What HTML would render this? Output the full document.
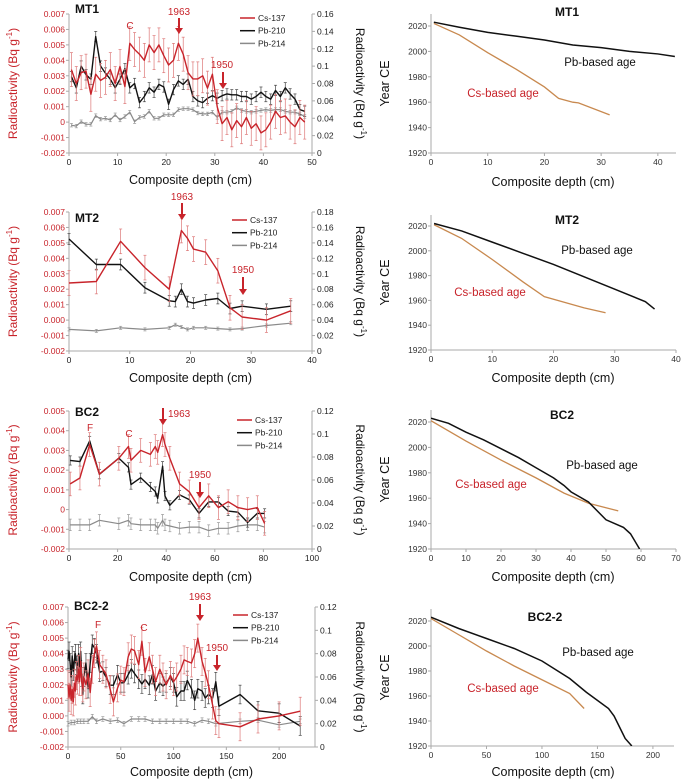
<!DOCTYPE html>
<html><head><meta charset="utf-8">
<style>
html,body{margin:0;padding:0;background:#fff;}
svg{display:block;font-family:"Liberation Sans",Arial,sans-serif;}
</style></head>
<body>
<svg id="fig" width="685" height="782" viewBox="0 0 685 782"></svg>
<script>
const NS="http://www.w3.org/2000/svg";
const svg=document.getElementById('fig');
const RED="#c8242b", ORANGE="#c8894f", GREY="#8a8a8a";

// ---------- MT1 radioactivity ----------
const mt1X=[0.5,1.5,2.5,3.5,4.5,5.5,6.5,7.5,8.5,9.5,10.5,11.5,12.5,13.5,14.5,15.5,16.5,17.5,18.5,19.5,20.5,21.5,22.5,23.5,24.5,25.5,26.5,27.5,28.5,29.5,30.5,31.5,32.5,33.5,34.5,35.5,36.5,37.5,38.5,39.5,40.5,41.5,42.5,43.5,44.5,45.5,46.5,47.5,48.5];
const mt1Cs=[0.0034,0.0025,0.0032,0.0033,0.0018,0.0031,0.0027,0.0029,0.0034,0.0025,0.0036,0.0023,0.0051,0.0047,0.0044,0.0040,0.0050,0.0045,0.0050,0.0043,0.0037,0.0040,0.0051,0.0044,0.0032,0.0028,0.0028,0.0030,0.0022,0.0031,0.0010,-0.0001,0.0003,-0.0005,0.0001,-0.0003,0.0003,-0.0004,-0.0001,-0.0007,-0.0005,0.0000,0.0007,0.0003,0.0004,0.0000,-0.0003,0.0003,0.0000];
const mt1Pb210=[0.088,0.075,0.100,0.090,0.085,0.134,0.100,0.092,0.085,0.075,0.085,0.097,0.075,0.080,0.058,0.065,0.075,0.070,0.079,0.076,0.056,0.073,0.083,0.079,0.085,0.065,0.060,0.058,0.063,0.066,0.063,0.066,0.068,0.067,0.067,0.065,0.065,0.062,0.065,0.070,0.065,0.062,0.072,0.065,0.075,0.068,0.062,0.050,0.048];
const mt1Pb214=[0.032,0.031,0.036,0.033,0.033,0.043,0.039,0.040,0.038,0.044,0.038,0.042,0.047,0.036,0.041,0.042,0.048,0.040,0.040,0.044,0.044,0.044,0.050,0.051,0.051,0.050,0.046,0.045,0.045,0.047,0.041,0.047,0.047,0.048,0.052,0.049,0.048,0.047,0.048,0.049,0.050,0.049,0.050,0.050,0.048,0.047,0.047,0.045,0.042];
const mt1Err=[0.0011,0.006,0.002];

// ---------- MT2 ----------
const mt2CsX=[0,4.5,8.5,12.5,16.5,18.5,19.5,20.5,22.5,24.5,26.5,28.5,32.5,36.5];
const mt2Cs=[0.0024,0.0025,0.0051,0.0034,0.0020,0.0058,0.0053,0.0046,0.0044,0.0032,0.0008,0.0002,0.0000,0.0006];
const mt2PbX=[0,4.5,8.5,12.5,16.5,17.5,18.5,19.5,20.5,22.5,24.5,26.5,28.5,32.5,36.5];
const mt2Pb210=[0.145,0.112,0.112,0.082,0.065,0.064,0.080,0.064,0.062,0.066,0.068,0.055,0.058,0.054,0.058];
const mt2Pb214=[0.028,0.026,0.030,0.028,0.030,0.034,0.031,0.028,0.030,0.030,0.029,0.028,0.029,0.033,0.036];
const mt2Err=[0.0008,0.007,0.002];

// ---------- BC2 ----------
const bc2X=[0.5,4.5,8.5,12.5,20.5,24.5,25.5,29.5,33.5,35.5,36.5,38.5,39.5,41.5,45.5,49.5,53.5,57.5,61.5,65.5,69.5,73.5,77.5,80.5];
const bc2Cs=[0.0013,0.0016,0.0033,0.0018,0.0026,0.0032,0.0025,0.0030,0.0028,0.0032,0.0029,0.0038,0.0033,0.0026,0.0013,0.0009,0.0001,0.0007,0.0001,0.0004,0.0001,0.0000,0.0001,-0.0007];
const bc2Pb210=[0.077,0.076,0.094,0.065,0.079,0.071,0.056,0.062,0.054,0.050,0.044,0.072,0.046,0.038,0.047,0.043,0.031,0.041,0.041,0.033,0.032,0.023,0.031,0.031];
const bc2Pb214=[0.021,0.021,0.021,0.025,0.022,0.025,0.022,0.021,0.021,0.021,0.018,0.025,0.021,0.020,0.018,0.019,0.019,0.016,0.018,0.018,0.020,0.021,0.021,0.019];
const bc2Err=[0.0006,0.004,0.005];

// ---------- BC2-2 ----------
const bc22X=[0,1,2,3,4,5,6,7,8,9,10,11,12,13,14,15,17,19,21,23,25,27,30,33,36,40,43,47,50,53,57,60,63,67,70,73,77,80,83,87,90,93,97,100,103,107,110,113,117,120,123,127,130,133,137,140,143,163,180,200,220];
const bc22Cs=[0.0020,0.0012,0.0020,0.0010,0.0017,0.0009,0.0021,0.0016,0.0026,0.0023,0.0030,0.0022,0.0035,0.0022,0.0018,0.0025,0.0020,0.0027,0.0015,0.0030,0.0040,0.0045,0.0033,0.0030,0.0027,0.0017,0.0009,0.0018,0.0023,0.0022,0.0038,0.0043,0.0042,0.0033,0.0048,0.0028,0.0038,0.0030,0.0022,0.0030,0.0025,0.0020,0.0026,0.0022,0.0025,0.0030,0.0036,0.0035,0.0034,0.0040,0.0050,0.0035,0.0028,0.0020,0.0007,-0.0003,-0.0005,-0.0007,-0.0002,0.0000,0.0003];
const bc22Pb210=[0.075,0.082,0.072,0.060,0.078,0.065,0.074,0.080,0.070,0.064,0.080,0.068,0.082,0.060,0.045,0.060,0.072,0.050,0.072,0.088,0.085,0.080,0.064,0.065,0.060,0.053,0.053,0.062,0.055,0.055,0.062,0.067,0.063,0.058,0.054,0.058,0.053,0.062,0.048,0.055,0.052,0.055,0.060,0.055,0.043,0.048,0.048,0.057,0.050,0.040,0.050,0.048,0.042,0.045,0.042,0.056,0.035,0.045,0.031,0.029,0.018];
const bc22Pb214X=[0,3,6,9,12,15,19,23,27,33,40,47,53,60,67,73,80,87,93,100,107,113,120,127,133,140,163,180,200,220];
const bc22Pb214=[0.020,0.021,0.021,0.022,0.022,0.022,0.022,0.026,0.022,0.024,0.022,0.023,0.020,0.024,0.024,0.024,0.022,0.022,0.022,0.022,0.022,0.022,0.020,0.023,0.022,0.020,0.022,0.023,0.019,0.022];
const bc22Err=[0.0009,0.008,0.002];

// ---------- age models ----------
const mt1AgePbX=[0.5,5,10,15,20,25,30,35,40,43];
const mt1AgePb=[2023,2019,2015,2012,2009,2005,2003,2000,1998,1996];
const mt1AgeCsX=[0.5,5,10,15,20,22.5,25,26,31.5];
const mt1AgeCs=[2022,2013,1999,1986,1972,1963,1960,1959.5,1950];
const mt2AgePbX=[0.5,5,10,15,20,25,30,35,36.5];
const mt2AgePb=[2022,2016,2007,1998,1989,1979,1969,1959,1953];
const mt2AgeCsX=[0.5,5,10,15,18.5,25,28.5];
const mt2AgeCs=[2021,2010,1993,1975,1963,1954,1950];
const bc2AgePbX=[0,5,10,15,20,25,30,35,38,40,45,50,55,57,59.6];
const bc2AgePb=[2023,2019,2012,2006,1999,1992,1984,1976,1970,1965,1957,1943,1937,1932,1920];
const bc2AgeCsX=[0,10,20,25,30,38,45,53.5];
const bc2AgeCs=[2021,2005,1990,1983,1976,1964,1956,1950];
const bc22AgePbX=[0,25,50,75,100,125,140,160,165,170,175,181];
const bc22AgePb=[2023,2014,2006,1998,1988,1974,1963,1950,1944,1935,1926,1920];
const bc22AgeCsX=[0,25,50,75,100,125,138];
const bc22AgeCs=[2022,2009,1996,1984,1973,1962,1950];

function el(tag,attrs,parent){const e=document.createElementNS(NS,tag);for(const k in attrs)e.setAttribute(k,attrs[k]);(parent||svg).appendChild(e);return e;}
function txt(s,attrs,parent){const e=el('text',attrs,parent);e.textContent=s;return e;}
function scale(d0,d1,r0,r1){return v=>r0+(v-d0)/(d1-d0)*(r1-r0);}
const TF=8.5;

function radioPanel(p){
  const g=el('g',{});
  
  
  const L=p.L,R=p.R,T=p.T,B=p.B;
  const xs=scale(0,p.xmax,L,R), yl=scale(p.lmin,p.lmax,B,T), yr=scale(0,p.rmax,B,T);
  el('line',{x1:L,y1:T,x2:L,y2:B,stroke:'#aaa','stroke-width':1},g);
  el('line',{x1:R,y1:T,x2:R,y2:B,stroke:'#aaa','stroke-width':1},g);
  el('line',{x1:L,y1:B,x2:R,y2:B,stroke:'#aaa','stroke-width':1},g);
  p.lticks.forEach((t,i)=>{const y=yl(p.lvals[i]);el('line',{x1:L-3,y1:y,x2:L,y2:y,stroke:'#aaa'},g);
    const e=txt(t,{x:L-4,y:y+3,'font-size':TF,fill:RED,'text-anchor':'end'},g);
    });
  p.rticks.forEach((t,i)=>{const y=yr(p.rvals[i]);el('line',{x1:R,y1:y,x2:R+3,y2:y,stroke:'#aaa'},g);
    const e=txt(t,{x:R+5,y:y+3,'font-size':TF,fill:'#222'},g);
    });
  p.xticks.forEach(v=>{const x=xs(v);el('line',{x1:x,y1:B,x2:x,y2:B+3,stroke:'#aaa'},g);
    const e=txt(String(v),{x:x,y:B+12,'font-size':TF,fill:'#222','text-anchor':'middle'},g);
    });
  const xt=txt('Composite depth (cm)',{x:(L+R)/2,y:p.xtY,'font-size':12.5,fill:'#111','text-anchor':'middle'},g);
  
  const ly=txt('',{x:0,y:0,'font-size':12,fill:RED,'text-anchor':'middle',transform:`translate(17,${(T+B)/2}) rotate(-90)`},g);
  ly.innerHTML='Radioactivity (Bq g<tspan dy="-5" font-size="8">-1</tspan><tspan dy="5">)</tspan>';
  
  const ry=txt('',{x:0,y:0,'font-size':12,fill:'#111','text-anchor':'middle',transform:`translate(356,${(T+B)/2}) rotate(90)`},g);
  ry.innerHTML='Radioactivity (Bq g<tspan dy="-5" font-size="8">-1</tspan><tspan dy="5">)</tspan>';
  
  const series=[
    {x:p.pb214x,y:p.pb214,sc:yr,c:GREY,w:1.2,err:p.err[2],name:'pb214'},
    {x:p.pb210x,y:p.pb210,sc:yr,c:'#111',w:1.4,err:p.err[1],name:'pb210'},
    {x:p.csx,y:p.cs,sc:yl,c:RED,w:1.4,err:p.err[0],name:'cs137'}];
  series.forEach(s=>{
    const sg=el('g',{},g);
    
    s.x.forEach((xv,i)=>{const x=xs(xv),y=s.sc(s.y[i]);const e=s.sc(0)-s.sc(s.err);
      const col=s.name==='cs137'?'#d77':(s.name==='pb210'?'#444':'#999');
      el('line',{x1:x,y1:y-e,x2:x,y2:y+e,stroke:col,'stroke-width':0.7},sg);
      el('line',{x1:x-1.5,y1:y-e,x2:x+1.5,y2:y-e,stroke:col,'stroke-width':0.7},sg);
      el('line',{x1:x-1.5,y1:y+e,x2:x+1.5,y2:y+e,stroke:col,'stroke-width':0.7},sg);});
    const pts=s.x.map((xv,i)=>xs(xv).toFixed(1)+','+s.sc(s.y[i]).toFixed(1)).join(' ');
    const pl=el('polyline',{points:pts,fill:'none',stroke:s.c,'stroke-width':s.w,'stroke-linejoin':'round'},sg);
    
  });
  const tt=txt(p.title,{x:L+6,y:p.titleY,'font-size':12,'font-weight':'bold',fill:'#111'},g);
  
  const lg=el('g',{},g);
  p.legNames.forEach((n,i)=>{const y=p.legY+i*12.7;const c=[RED,'#111',GREY][i];
    el('line',{x1:p.legX,y1:y,x2:p.legX+15,y2:y,stroke:c,'stroke-width':1.5},lg);
    const e=txt(n,{x:p.legX+18,y:y+3,'font-size':8.5,fill:'#222'},lg);
    });
  p.ann.forEach(a=>{
    const e=txt(a.t,{x:a.x,y:a.y,'font-size':a.s||10,fill:RED,'text-anchor':a.a||'middle'},g);
    
    if(a.ax!==undefined){el('line',{x1:a.ax,y1:a.ay1,x2:a.ax,y2:a.ay2-5,stroke:RED,'stroke-width':2},g);
      el('polygon',{points:`${a.ax-4},${a.ay2-6} ${a.ax+4},${a.ay2-6} ${a.ax},${a.ay2}`,fill:RED},g);}
  });
}

function agePanel(p){
  const g=el('g',{});
  
  const L=431,R=p.R,T=p.T,B=p.B;
  const xs=scale(0,p.xmax,L,R), ys=scale(1920,2020,B,p.y2020);
  el('line',{x1:L,y1:T,x2:L,y2:B,stroke:'#aaa'},g);
  el('line',{x1:L,y1:B,x2:R,y2:B,stroke:'#aaa'},g);
  [1920,1940,1960,1980,2000,2020].forEach(v=>{const y=ys(v);el('line',{x1:L-3,y1:y,x2:L,y2:y,stroke:'#aaa'},g);
    const e=txt(String(v),{x:L-4,y:y+3,'font-size':TF,fill:'#333','text-anchor':'end'},g);
    });
  p.xticks.forEach(v=>{const x=xs(v);el('line',{x1:x,y1:B,x2:x,y2:B+3,stroke:'#aaa'},g);
    const e=txt(String(v),{x:x,y:B+12,'font-size':TF,fill:'#333','text-anchor':'middle'},g);
    });
  const xt=txt('Composite depth (cm)',{x:553,y:p.xtY,'font-size':12.5,fill:'#111','text-anchor':'middle'},g);
  
  const yt=txt('Year CE',{x:0,y:0,'font-size':12.5,fill:'#111','text-anchor':'middle',transform:`translate(389,${(T+B)/2}) rotate(-90)`},g);
  
  const cl='clip-'+p.id;const cp=el('clipPath',{id:cl},g);el('rect',{x:L,y:T-5,width:R-L+5,height:B-T+5},cp);
  const pc=el('polyline',{points:p.csx.map((x,i)=>xs(x)+','+ys(p.cs[i])).join(' '),fill:'none',stroke:ORANGE,'stroke-width':1.3,'clip-path':`url(#${cl})`},g);
  
  const pp=el('polyline',{points:p.pbx.map((x,i)=>xs(x)+','+ys(p.pb[i])).join(' '),fill:'none',stroke:'#111','stroke-width':1.5,'clip-path':`url(#${cl})`},g);
  
  const t=txt(p.title,{x:p.tx,y:p.ty,'font-size':12,'font-weight':'bold',fill:'#111','text-anchor':'middle'},g);
  
  const a=txt('Pb-based age',{x:p.pbl[0],y:p.pbl[1],'font-size':11.5,fill:'#111','text-anchor':'middle'},g);
  
  const b=txt('Cs-based age',{x:p.csl[0],y:p.csl[1],'font-size':11.5,fill:RED,'text-anchor':'middle'},g);
  
}

const L7=['0.007','0.006','0.005','0.004','0.003','0.002','0.001','0','-0.001','-0.002'];
const L7b=['0.007','0.006','0.005','0.004','0.003','0.002','0.001','0.000','-0.001','-0.002'];
const V7=[0.007,0.006,0.005,0.004,0.003,0.002,0.001,0,-0.001,-0.002];

radioPanel({id:'mt1',L:69,R:312,T:14,B:153,xmax:50,lmin:-0.002,lmax:0.007,rmax:0.16,
  lticks:L7,lvals:V7,rticks:['0.16','0.14','0.12','0.1','0.08','0.06','0.04','0.02','0'],rvals:[0.16,0.14,0.12,0.1,0.08,0.06,0.04,0.02,0],
  xticks:[0,10,20,30,40,50],xtY:184,csx:mt1X,cs:mt1Cs,pb210x:mt1X,pb210:mt1Pb210,pb214x:mt1X,pb214:mt1Pb214,err:mt1Err,
  title:'MT1',titleY:13,legX:240,legY:18,legNames:['Cs-137','Pb-210','Pb-214'],
  ann:[{t:'C',x:130,y:29},{t:'1963',x:179,y:15,ax:179,ay1:18,ay2:34},{t:'1950',x:222,y:68,ax:223,ay1:72,ay2:89}]});
radioPanel({id:'mt2',L:69,R:312,T:212,B:351,xmax:40,lmin:-0.002,lmax:0.007,rmax:0.18,
  lticks:L7b,lvals:V7,rticks:['0.18','0.16','0.14','0.12','0.1','0.08','0.06','0.04','0.02','0'],rvals:[0.18,0.16,0.14,0.12,0.1,0.08,0.06,0.04,0.02,0],
  xticks:[0,10,20,30,40],xtY:382,csx:mt2CsX,cs:mt2Cs,pb210x:mt2PbX,pb210:mt2Pb210,pb214x:mt2PbX,pb214:mt2Pb214,err:mt2Err,
  title:'MT2',titleY:222,legX:232,legY:220,legNames:['Cs-137','Pb-210','Pb-214'],
  ann:[{t:'1963',x:182,y:200,ax:182,ay1:203,ay2:220},{t:'1950',x:243,y:273,ax:243,ay1:277,ay2:295}]});
radioPanel({id:'bc2',L:69,R:312,T:411,B:549,xmax:100,lmin:-0.002,lmax:0.005,rmax:0.12,
  lticks:['0.005','0.004','0.003','0.002','0.001','0','-0.001','-0.002'],lvals:[0.005,0.004,0.003,0.002,0.001,0,-0.001,-0.002],
  rticks:['0.12','0.1','0.08','0.06','0.04','0.02','0'],rvals:[0.12,0.1,0.08,0.06,0.04,0.02,0],
  xticks:[0,20,40,60,80,100],xtY:581,csx:bc2X,cs:bc2Cs,pb210x:bc2X,pb210:bc2Pb210,pb214x:bc2X,pb214:bc2Pb214,err:bc2Err,
  title:'BC2',titleY:416,legX:237,legY:420,legNames:['Cs-137','Pb-210','Pb-214'],
  ann:[{t:'F',x:90,y:431},{t:'C',x:129,y:437},{t:'1963',x:168,y:417,a:'start',ax:163,ay1:408,ay2:425},{t:'1950',x:200,y:478,ax:200,ay1:482,ay2:498}]});
radioPanel({id:'bc2-2',L:68,R:315,T:607,B:747,xmax:234,lmin:-0.002,lmax:0.007,rmax:0.12,
  lticks:L7b,lvals:V7,rticks:['0.12','0.1','0.08','0.06','0.04','0.02','0'],rvals:[0.12,0.1,0.08,0.06,0.04,0.02,0],
  xticks:[0,50,100,150,200],xtY:776,csx:bc22X,cs:bc22Cs,pb210x:bc22X,pb210:bc22Pb210,pb214x:bc22Pb214X,pb214:bc22Pb214,err:bc22Err,
  title:'BC2-2',titleY:610,legX:233,legY:615,legNames:['Cs-137','PB-210','Pb-214'],
  ann:[{t:'F',x:98,y:628},{t:'C',x:144,y:631},{t:'1963',x:200,y:600,ax:200,ay1:604,ay2:621},{t:'1950',x:217,y:651,ax:217,ay1:655,ay2:671}]});

agePanel({id:'mt1',R:676,T:14,B:153,y2020:26,xmax:43.2,xticks:[0,10,20,30,40],xtY:186,
  pbx:mt1AgePbX,pb:mt1AgePb,csx:mt1AgeCsX,cs:mt1AgeCs,title:'MT1',tx:567,ty:16,pbl:[600,66],csl:[503,97]});
agePanel({id:'mt2',R:676,T:215,B:350,y2020:226,xmax:40,xticks:[0,10,20,30,40],xtY:382,
  pbx:mt2AgePbX,pb:mt2AgePb,csx:mt2AgeCsX,cs:mt2AgeCs,title:'MT2',tx:567,ty:224,pbl:[597,254],csl:[490,296]});
agePanel({id:'bc2',R:676,T:410,B:549,y2020:422,xmax:70,xticks:[0,10,20,30,40,50,60,70],xtY:581,
  pbx:bc2AgePbX,pb:bc2AgePb,csx:bc2AgeCsX,cs:bc2AgeCs,title:'BC2',tx:562,ty:419,pbl:[602,469],csl:[491,488]});
agePanel({id:'bc2-2',R:674,T:609,B:746,y2020:621,xmax:219,xticks:[0,50,100,150,200],xtY:776,
  pbx:bc22AgePbX,pb:bc22AgePb,csx:bc22AgeCsX,cs:bc22AgeCs,title:'BC2-2',tx:545,ty:621,pbl:[598,656],csl:[503,692]});
</script>
</body></html>
